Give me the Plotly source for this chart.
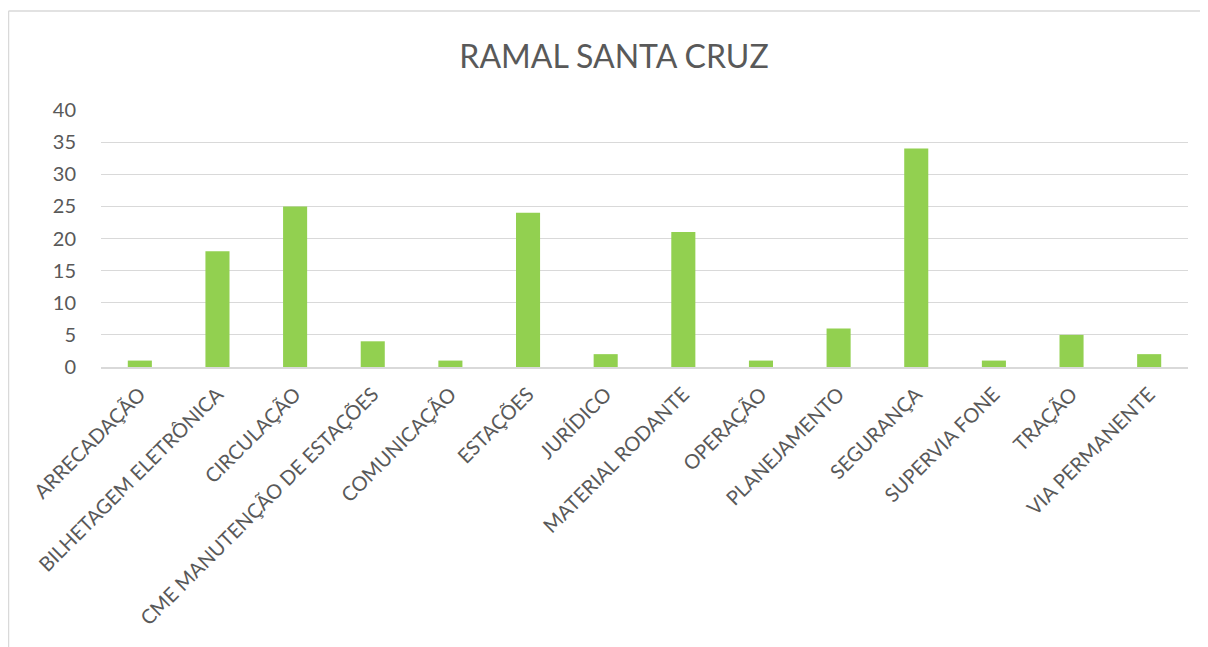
import plotly.graph_objects as go

categories = ["ARRECADAÇÃO", "BILHETAGEM ELETRÔNICA", "CIRCULAÇÃO",
              "CME MANUTENÇÃO DE ESTAÇÕES", "COMUNICAÇÃO", "ESTAÇÕES",
              "JURÍDICO", "MATERIAL RODANTE", "OPERAÇÃO", "PLANEJAMENTO",
              "SEGURANÇA", "SUPERVIA FONE", "TRAÇÃO", "VIA PERMANENTE"]
values = [1, 18, 25, 4, 1, 24, 2, 21, 1, 6, 34, 1, 5, 2]
y_ticks = [0, 5, 10, 15, 20, 25, 30, 35, 40]

# page body has an 8px margin, so the figure starts 8px in from the window corner
OFF = 8
W, H = 1208 - OFF, 647 - OFF
L, T = 101 - OFF, 110 - OFF
pw, ph = 1087, 257
R = W - L - pw
B = H - T - ph

def px_x(x):
    return (x - OFF - L) / pw

def px_y(y):
    return (367 - y) / ph

fig = go.Figure(go.Bar(x=categories, y=values, marker_color="#92D050",
                       marker_line_width=0, width=0.31))

grey = "#595959"
border = dict(color="#d9d9d9", width=1.5)
font = "Lato, 'Open Sans', sans-serif"
fig.update_layout(
    width=W, height=H,
    margin=dict(l=L, r=R, t=T, b=B, autoexpand=False),
    paper_bgcolor="white", plot_bgcolor="white",
    title=dict(text="RAMAL SANTA CRUZ", x=(614 - OFF) / W, xanchor="center",
               y=1 - (57 - OFF) / H, yanchor="middle",
               font=dict(family=font, size=32, color=grey)),
    font=dict(family=font, color=grey),
    showlegend=False,
    bargap=0.69,
    shapes=[
        dict(type="line", xref="paper", yref="paper",
             x0=px_x(8.5), x1=px_x(8.5), y0=px_y(11), y1=px_y(OFF + H),
             line=border, layer="below"),
        dict(type="line", xref="paper", yref="paper",
             x0=px_x(8.5), x1=px_x(OFF + W), y0=px_y(11), y1=px_y(11),
             line=border, layer="below"),
    ],
)
fig.update_yaxes(range=[0, 40], tickvals=y_ticks, showgrid=True,
                 gridcolor="#d9d9d9", gridwidth=1, zeroline=False,
                 showline=False, ticks="outside", ticklen=20,
                 tickcolor="rgba(0,0,0,0)",
                 tickfont=dict(size=20, color=grey, family=font))
fig.update_xaxes(tickangle=-45, showline=True, linecolor="#d9d9d9",
                 linewidth=1.5, ticks="outside", ticklen=6,
                 tickcolor="rgba(0,0,0,0)",
                 tickfont=dict(size=20, color=grey, family=font))

fig.write_html("out.html")
